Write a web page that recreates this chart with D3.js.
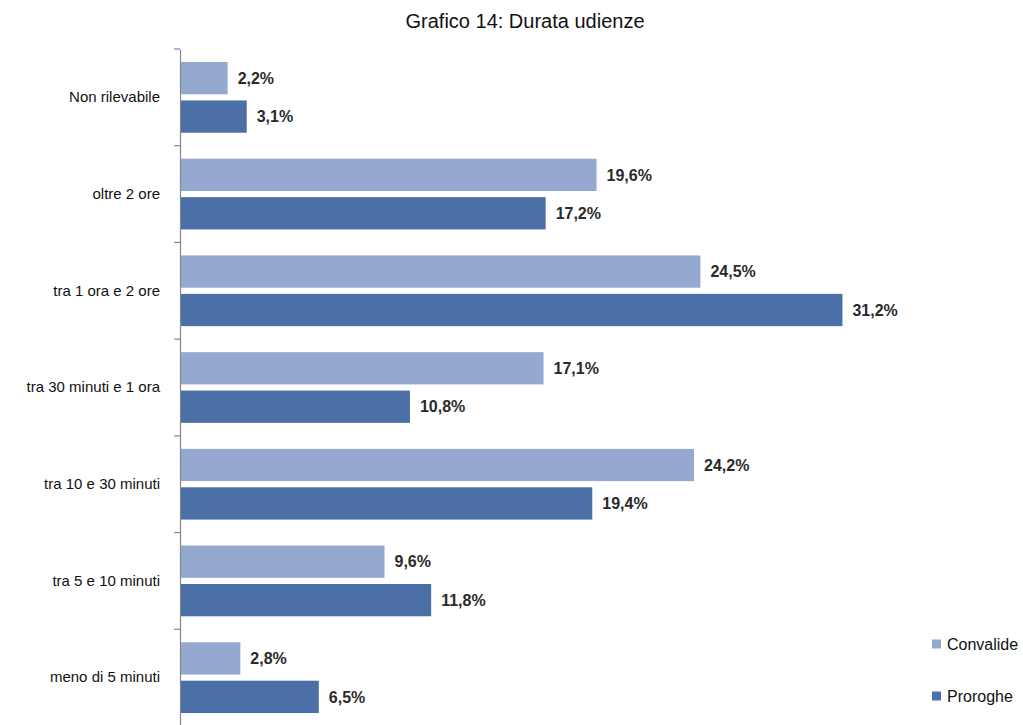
<!DOCTYPE html>
<html>
<head>
<meta charset="utf-8">
<script src="https://cdn.jsdelivr.net/npm/d3@7"></script>
<style>
  html, body { margin: 0; padding: 0; background: #fff; }
  svg { display: block; font-family: "Liberation Sans", Arial, Helvetica, sans-serif; }
</style>
</head>
<body>
<svg id="chart" width="1023" height="725"></svg>
<script>
// Durata delle udienze: convalide vs proroghe (% dei casi)
const categories = [
  "Non rilevabile",
  "oltre 2 ore",
  "tra 1 ora e 2 ore",
  "tra 30 minuti e 1 ora",
  "tra 10 e 30 minuti",
  "tra 5 e 10 minuti",
  "meno di 5 minuti"
];
const seriesNames = ["Convalide", "Proroghe"];
const convalide = [2.2, 19.6, 24.5, 17.1, 24.2, 9.6, 2.8];
const proroghe  = [3.1, 17.2, 31.2, 10.8, 19.4, 11.8, 6.5];
const colors = ["#95a9d0", "#4a70a7"];
const title = "Grafico 14: Durata udienze";

const fmt = v => d3.format(".1f")(v).replace(".", ",") + "%";

const rows = categories.map((c, i) => ({
  cat: c,
  values: [
    { key: seriesNames[0], v: convalide[i] },
    { key: seriesNames[1], v: proroghe[i] }
  ]
}));

const svg = d3.select("#chart");
const margin = { top: 49, left: 180 };
const plotH = 677;

const y = d3.scaleBand()
  .domain(categories)
  .range([margin.top, margin.top + plotH])
  .paddingInner(0)
  .paddingOuter(0);

const y1 = d3.scaleBand()
  .domain(seriesNames)
  .range([13, y.bandwidth() - 13])
  .paddingInner(0.16);

const x = d3.scaleLinear().domain([0, 35]).range([margin.left, margin.left + 35 * 21.2]);

// title
svg.append("text")
  .attr("x", 525).attr("y", 28)
  .attr("text-anchor", "middle")
  .attr("font-size", 20)
  .attr("fill", "#111")
  .text(title);

// bars
const groups = svg.append("g").selectAll("g")
  .data(rows).join("g")
  .attr("transform", d => `translate(0,${y(d.cat)})`);

groups.selectAll("rect")
  .data(d => d.values).join("rect")
  .attr("x", x(0) + 1)
  .attr("y", d => y1(d.key))
  .attr("width", d => x(d.v) - x(0))
  .attr("height", y1.bandwidth())
  .attr("fill", (d, i) => colors[i]);

groups.selectAll("text.val")
  .data(d => d.values).join("text")
  .attr("class", "val")
  .attr("x", d => x(d.v) + 11)
  .attr("y", d => y1(d.key) + y1.bandwidth() / 2)
  .attr("dy", "0.36em")
  .attr("font-size", 16)
  .attr("font-weight", "bold")
  .attr("fill", "#2a2a2a")
  .text(d => fmt(d.v));

// category axis
const axis = d3.axisLeft(y).tickSize(0).tickPadding(20);
const ag = svg.append("g")
  .attr("transform", `translate(${margin.left},0)`)
  .call(axis);
ag.select(".domain").attr("stroke", "#888").attr("stroke-width", 1.2);
ag.selectAll(".tick text")
  .attr("font-size", 15)
  .attr("fill", "#111")
  .attr("font-family", "Liberation Sans, Arial, sans-serif");

// tick marks at band boundaries
const bounds = categories.map(c => y(c)).concat([y.range()[1]]);
svg.append("g").selectAll("line")
  .data(bounds).join("line")
  .attr("x1", margin.left - 6).attr("x2", margin.left)
  .attr("y1", d => d).attr("y2", d => d)
  .attr("stroke", "#888").attr("stroke-width", 1.2);

// legend
const legend = svg.append("g").selectAll("g")
  .data(seriesNames).join("g")
  .attr("transform", (d, i) => `translate(932,${644 + i * 52})`);
legend.append("rect")
  .attr("x", 0).attr("y", -4.5).attr("width", 9).attr("height", 9)
  .attr("fill", (d, i) => colors[i]);
legend.append("text")
  .attr("x", 15).attr("y", 0).attr("dy", "0.36em")
  .attr("font-size", 16)
  .attr("fill", "#111")
  .text(d => d);
</script>
</body>
</html>
